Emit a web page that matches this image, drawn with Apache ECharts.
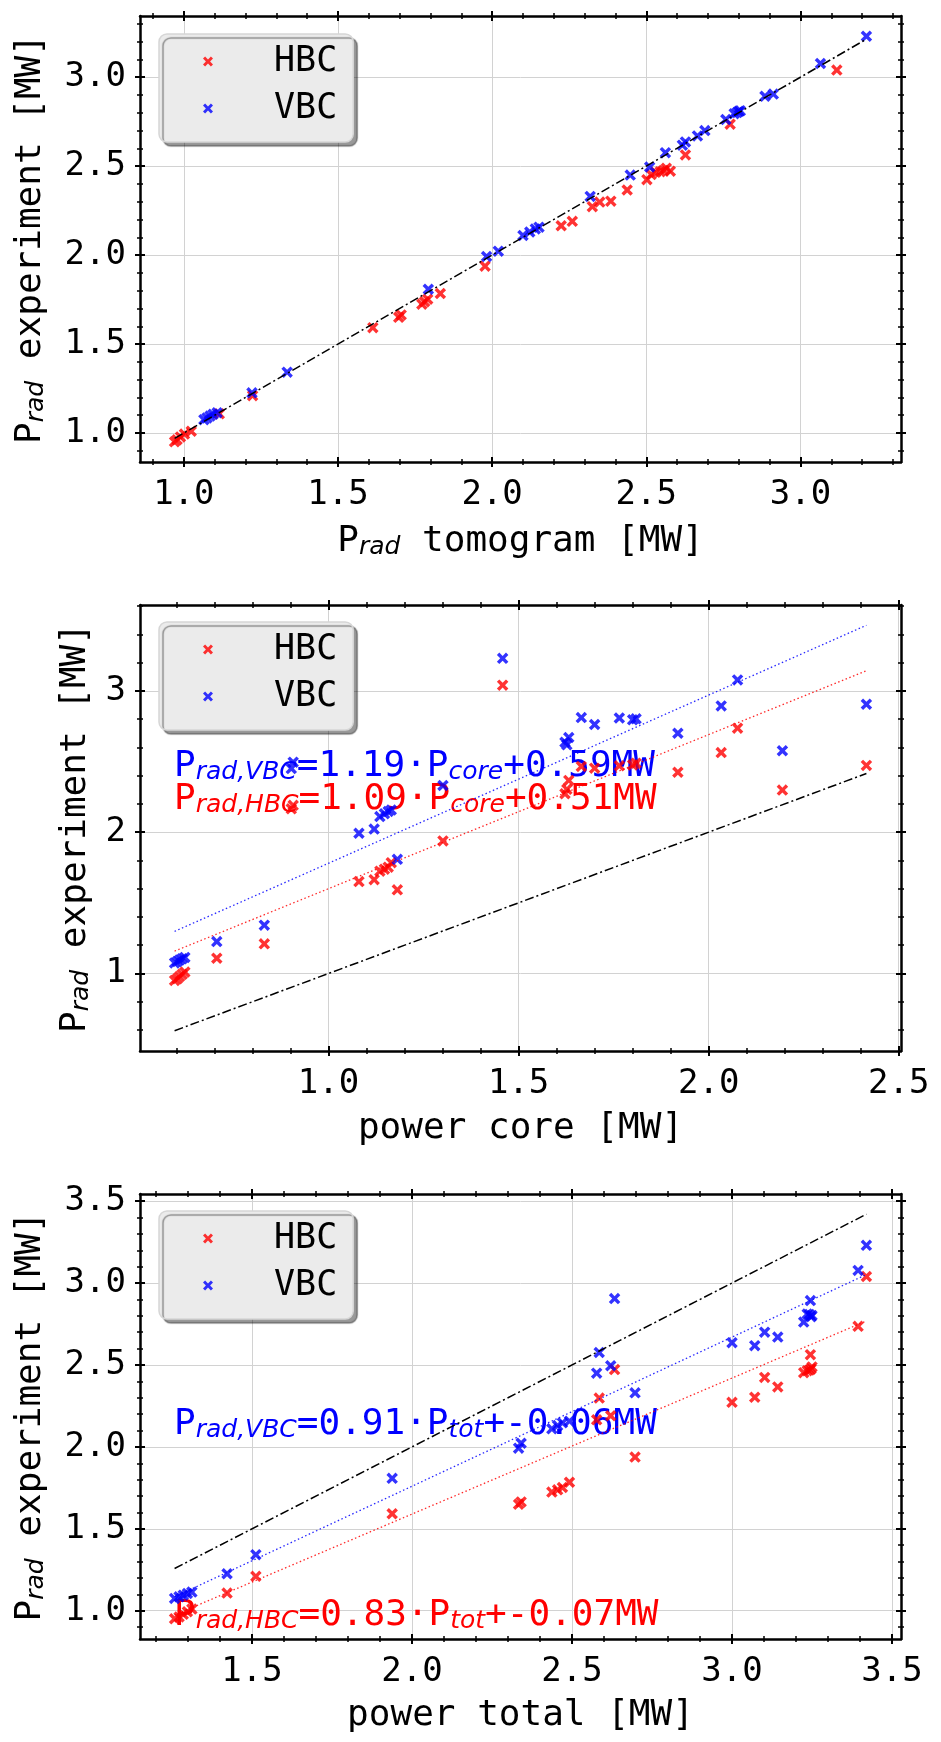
<!DOCTYPE html>
<html><head><meta charset="utf-8">
<script src="https://cdn.jsdelivr.net/npm/echarts@6.0.0/dist/echarts.min.js"></script>
<style>html,body{margin:0;padding:0;background:#fff}#c{width:941px;height:1742px}</style>
</head><body><div id="c"></div>
<script>
// ---- data: one entry per shot ----
const corePower     = [1.458,2.076,2.033,2.415,1.919,1.665,1.700,1.765,1.800,1.809,1.632,1.627,1.622,2.194,0.907,0.902,1.301,1.165,1.157,1.147,1.135,1.120,1.080,1.181,0.831,0.706,0.595,0.602,0.608,0.615,0.622];
const totalPower    = [3.420,3.394,3.245,2.633,3.102,3.235,3.224,3.242,3.247,3.250,3.143,3.071,3.000,2.585,2.621,2.577,2.697,2.492,2.470,2.455,2.437,2.341,2.333,1.938,1.512,1.422,1.258,1.272,1.285,1.298,1.312];
const vbcExperiment = [3.230,3.077,2.893,2.905,2.700,2.811,2.762,2.808,2.795,2.802,2.670,2.618,2.636,2.576,2.495,2.450,2.330,2.157,2.147,2.130,2.110,2.022,1.992,1.808,1.342,1.226,1.075,1.085,1.095,1.105,1.114];
const hbcExperiment = [3.040,2.736,2.563,2.472,2.424,2.465,2.453,2.469,2.476,2.488,2.366,2.303,2.272,2.298,2.190,2.165,1.938,1.784,1.752,1.738,1.724,1.664,1.650,1.592,1.210,1.108,0.951,0.962,0.978,0.994,1.010];
const vbcTomogram   = [3.214,3.065,2.885,2.912,2.690,2.805,2.758,2.800,2.785,2.795,2.666,2.617,2.627,2.562,2.511,2.448,2.318,2.152,2.140,2.122,2.100,2.020,1.982,1.793,1.335,1.221,1.065,1.075,1.085,1.095,1.108];
const hbcTomogram   = [3.118,2.772,2.627,2.578,2.502,2.530,2.516,2.545,2.556,2.565,2.438,2.385,2.325,2.349,2.260,2.224,1.977,1.832,1.791,1.781,1.772,1.705,1.697,1.613,1.223,1.115,0.970,0.978,0.989,1.002,1.024];
// fit coefficients [slope, intercept]
const fitCoreVBC  = [1.19, 0.59];
const fitCoreHBC  = [1.09, 0.51];
const fitTotalVBC = [0.91, -0.06];
const fitTotalHBC = [0.83, -0.07];
// tick labels
const topXTicks = [1.0,1.5,2.0,2.5,3.0];
const topYTicks = [1.0,1.5,2.0,2.5,3.0];
const midXTicks = [1.0,1.5,2.0,2.5];
const midYTicks = [1,2,3];
const botXTicks = [1.5,2.0,2.5,3.0,3.5];
const botYTicks = [1.0,1.5,2.0,2.5,3.0,3.5];
const seriesNames = ['HBC','VBC'];

// ---- styling ----
const MONO = '"DejaVu Sans Mono", monospace';
const SANS = '"DejaVu Sans", sans-serif';
const RED = '#ff0000', BLUE = '#0000ff';
const XSYM = 'path://M0,2.1L2.1,0L5,2.9L7.9,0L10,2.1L7.1,5L10,7.9L7.9,10L5,7.1L2.1,10L0,7.9L2.9,5Z';

function lim(vals){const lo=Math.min(...vals),hi=Math.max(...vals),m=(hi-lo)*0.05;return [lo-m,hi+m];}
function minorTicks(lo,hi,step){const o=[];for(let k=Math.ceil(lo/step-1e-9);k*step<=hi+1e-9;k++)o.push(+(k*step).toFixed(4));return o;}
const pairs=(xs,ys)=>xs.map((x,i)=>[x,ys[i]]);

const nameRich = {
  m:{fontFamily:MONO,fontSize:36,lineHeight:44,color:'#000',verticalAlign:'bottom'},
  s:{fontFamily:SANS,fontStyle:'italic',fontSize:25,lineHeight:26,padding:[14,0,0,0],verticalAlign:'bottom',color:'#000'}
};

function axesFor(dim,g,l,majors,minorStep,fmt,name,nameGap){
  const isX=dim==='x', pA=isX?'bottom':'left', pB=isX?'top':'right';
  const minors=minorTicks(l[0],l[1],minorStep);
  const base={type:'value',gridIndex:g,min:l[0],max:l[1]};
  const off={axisLine:{show:false},axisLabel:{show:false},splitLine:{show:false}};
  const tick=(len,w,vals)=>({show:true,inside:true,length:len,customValues:vals,lineStyle:{color:'#000',width:w}});
  const line={show:true,onZero:false,lineStyle:{color:'#000',width:2.5}};
  return [
    Object.assign({},base,{position:pA,axisLine:line,axisTick:{show:false,customValues:majors},
      axisLabel:{customValues:majors,formatter:fmt,color:'#000',fontFamily:MONO,fontSize:34,margin:isX?16:14},
      splitLine:{show:true,lineStyle:{color:'#d2d2d2',width:1}},
      name:name,nameLocation:'middle',nameGap:nameGap,nameRotate:isX?0:90,nameTextStyle:{rich:nameRich}}),
    Object.assign({},base,off,{position:pA,offset:5,axisTick:tick(10,2,majors)}),
    Object.assign({},base,off,{position:pA,offset:3,axisTick:tick(6,1.5,minors)}),
    Object.assign({},base,{position:pB,axisLine:line,axisTick:{show:false},axisLabel:{show:false},splitLine:{show:false}}),
    Object.assign({},base,off,{position:pB,offset:5,axisTick:tick(10,2,majors)}),
    Object.assign({},base,off,{position:pB,offset:3,axisTick:tick(6,1.5,minors)})
  ];
}

const xAxes=[], yAxes=[], series=[];
function scatter(name,data,g,color){
  series.push({type:'scatter',name,data,xAxisIndex:g*6,yAxisIndex:g*6,symbol:XSYM,symbolSize:11.5,
    itemStyle:{color},z:3,silent:true});
}
function line(name,data,g,style){
  series.push({type:'line',name,data,xAxisIndex:g*6,yAxisIndex:g*6,symbol:'none',lineStyle:style,z:4,silent:true});
}
const idStyle={color:'#000',width:1.5,type:[9,3,2,3]};
const dotStyle=c=>({color:c,width:1.3,type:[1.5,2.5],opacity:0.85});
const f1=v=>v.toFixed(1), f0=v=>String(v);

function panel(g,xH,xV,fitV,fitH,xt,yt,yMinor,xfmt,yfmt,xName,xGap,yGap){
  const allX=xH.concat(xV), lo=Math.min(...allX), hi=Math.max(...allX);
  const ident=[[lo,lo],[hi,hi]];
  let ys=hbcExperiment.concat(vbcExperiment,[lo,hi]);
  let fV=null,fH=null;
  if(fitV){fV=[[lo,fitV[0]*lo+fitV[1]],[hi,fitV[0]*hi+fitV[1]]];fH=[[lo,fitH[0]*lo+fitH[1]],[hi,fitH[0]*hi+fitH[1]]];
    ys=ys.concat(fV.map(p=>p[1]),fH.map(p=>p[1]));}
  const lx=lim(allX), ly=lim(ys);
  xAxes.push(...axesFor('x',g,lx,xt,0.1,xfmt,xName,xGap));
  yAxes.push(...axesFor('y',g,ly,yt,yMinor,yfmt,'{m|P}{s|rad}{m| experiment [MW]}',yGap));
  scatter('HBC',pairs(xH,hbcExperiment),g,RED);
  scatter('VBC',pairs(xV,vbcExperiment),g,BLUE);
  line('identity'+g,ident,g,idStyle);
  if(fV){line('fitVBC'+g,fV,g,dotStyle(BLUE));line('fitHBC'+g,fH,g,dotStyle(RED));}
}
panel(0,hbcTomogram,vbcTomogram,null,null,topXTicks,topYTicks,0.1,f1,f1,'{m|P}{s|rad}{m| tomogram [MW]}',54,91);
panel(1,corePower,corePower,fitCoreVBC,fitCoreHBC,midXTicks,midYTicks,0.2,f1,f0,'{m|power core [MW]}',52,46);
panel(2,totalPower,totalPower,fitTotalVBC,fitTotalHBC,botXTicks,botYTicks,0.1,f1,f1,'{m|power total [MW]}',51,91);

function legendFor(top){
  return {data:seriesNames,orient:'vertical',left:159,top,itemWidth:10,itemHeight:10,itemGap:12,
    padding:[10,16,16,44],backgroundColor:'#ebebeb',borderColor:'#d6d6d6',borderWidth:1.5,borderRadius:8,
    shadowColor:'rgba(0,0,0,0.4)',shadowBlur:1,shadowOffsetX:4,shadowOffsetY:4,selectedMode:false,
    formatter:n=>'{t|'+n+'}',
    textStyle:{rich:{t:{fontFamily:MONO,fontSize:35,lineHeight:40,color:'#000',padding:[0,0,0,56]}}}};
}

function annot(x,y,cam,mid,sub,tail,color){
  return {type:'text',x,y,z:1,silent:true,style:{
    text:'{m|P}{s|rad,'+cam+'}{m|='+mid+'·P}{s|'+sub+'}{m|'+tail+'}',
    align:'left',verticalAlign:'top',
    rich:{m:{fontFamily:MONO,fontSize:36,lineHeight:44,fill:color,verticalAlign:'bottom'},
          s:{fontFamily:SANS,fontStyle:'italic',fontSize:25,lineHeight:26,padding:[14,0,0,0],verticalAlign:'bottom',fill:color}}}};
}

const chart=echarts.init(document.getElementById('c'),null,{renderer:'canvas'});
chart.setOption({
  backgroundColor:'#fff',animation:false,
  grid:[{left:140,right:40,top:16,height:446,outerBoundsMode:'none',containLabel:false},
        {left:140,right:40,top:605,height:446,outerBoundsMode:'none',containLabel:false},
        {left:140,right:40,top:1194,height:445,outerBoundsMode:'none',containLabel:false}],
  legend:[legendFor(34),legendFor(622),legendFor(1211)],
  xAxis:xAxes,yAxis:yAxes,series,
  graphic:[
    annot(174,741,'VBC','1.19','core','+0.59MW',BLUE),
    annot(174,774,'HBC','1.09','core','+0.51MW',RED),
    annot(174,1399,'VBC','0.91','tot','+-0.06MW',BLUE),
    annot(174,1590,'HBC','0.83','tot','+-0.07MW',RED)
  ]
});
</script></body></html>
